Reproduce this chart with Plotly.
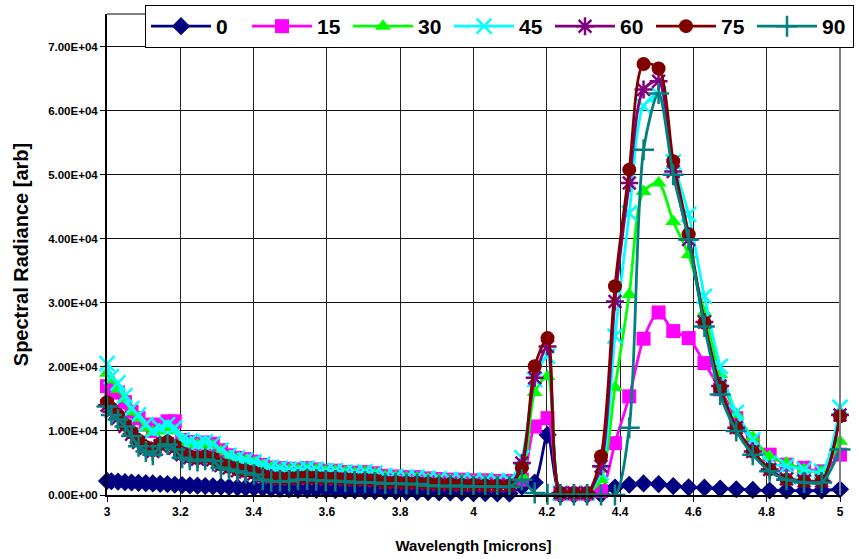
import plotly.graph_objects as go

wavelength = [3.000, 3.012, 3.030, 3.049, 3.067, 3.086, 3.106, 3.125, 3.145, 3.165,
              3.185, 3.205, 3.226, 3.247, 3.268, 3.289, 3.311, 3.333, 3.356, 3.378,
              3.401, 3.425, 3.448, 3.472, 3.497, 3.521, 3.546, 3.571, 3.597, 3.623,
              3.650, 3.676, 3.704, 3.731, 3.759, 3.788, 3.817, 3.846, 3.876, 3.906,
              3.937, 3.968, 4.000, 4.032, 4.065, 4.098, 4.132, 4.167, 4.202, 4.237,
              4.274, 4.310, 4.348, 4.386, 4.425, 4.464, 4.505, 4.545, 4.587, 4.630,
              4.673, 4.717, 4.762, 4.808, 4.854, 4.902, 4.950, 5.000]

s0 = [2200, 2150, 2100, 2000, 1950, 1900, 1850, 1800, 1750, 1700,
      1600, 1550, 1500, 1450, 1400, 1350, 1300, 1250, 1200, 1150,
      1100, 1050, 1000, 950, 900, 850, 850, 800, 800, 750,
      700, 700, 650, 600, 600, 550, 500, 500, 450, 400,
      400, 350, 300, 300, 250, 250, 1300, 1950, 9400, 0,
      0, 0, 100, 1170, 1600, 1800, 1700, 1400, 1200, 1150,
      1000, 900, 800, 700, 700, 650, 700, 900]

s15 = [17000, 16500, 16000, 14500, 13000, 12000, 11000, 10000, 11000, 11500,
       11500, 8600, 8300, 8000, 8200, 8000, 7000, 6200, 5800, 5600,
       5200, 4700, 4300, 4200, 4100, 4000, 4200, 4000, 3800, 3800,
       3600, 3500, 3600, 3400, 3000, 2900, 2800, 2800, 2600, 2500,
       2400, 2400, 2300, 2300, 2200, 2200, 2400, 10700, 12000, 200,
       200, 200, 600, 8100, 15400, 24400, 28500, 25600, 24500, 20600,
       16500, 12000, 8400, 6300, 4750, 4250, 3700, 6300]

s30 = [19000, 18000, 16500, 15000, 13000, 12000, 10500, 9800, 10000, 10500,
       10000, 8300, 8000, 7800, 8000, 7700, 6800, 6000, 5600, 5300,
       5000, 4600, 4200, 4000, 3900, 3900, 4000, 3900, 3700, 3700,
       3500, 3400, 3500, 3300, 2900, 2800, 2700, 2700, 2500, 2400,
       2300, 2300, 2200, 2200, 2100, 2100, 3000, 16000, 18500, 200,
       200, 200, 2400, 16800, 31300, 47400, 48700, 42700, 37500, 28500,
       18800, 12600, 9000, 6000, 5000, 4000, 3700, 8400]

s45 = [20500, 18500, 17500, 15500, 13500, 12500, 11000, 10000, 10500, 11000,
       10500, 8600, 8400, 8000, 8300, 8000, 7000, 6200, 5800, 5500,
       5200, 4800, 4300, 4200, 4000, 4000, 4200, 4000, 3800, 3800,
       3600, 3500, 3600, 3400, 3000, 2900, 2800, 2800, 2600, 2500,
       2400, 2400, 2300, 2300, 2200, 2200, 5800, 18000, 21700, 300,
       300, 300, 3500, 24800, 44000, 60700, 62500, 52000, 43800, 31000,
       20100, 12900, 8650, 5000, 4500, 4000, 3700, 13700]

s60 = [14000, 13000, 12000, 10700, 9500, 8200, 7300, 6800, 7700, 8000,
       7300, 6300, 5800, 5600, 5800, 5500, 4600, 4200, 3800, 3600,
       3300, 2900, 2600, 2500, 2500, 2600, 2700, 2600, 2500, 2500,
       2400, 2300, 2300, 2200, 1900, 1900, 1800, 1800, 1700, 1600,
       1600, 1500, 1500, 1400, 1400, 1400, 5000, 18300, 23200, 300,
       300, 300, 4500, 30200, 48700, 63300, 64600, 50500, 39900, 27000,
       17000, 10500, 6800, 4000, 2500, 2200, 2200, 12500]

s75 = [14500, 13500, 12500, 11000, 9800, 8500, 7500, 7000, 8000, 8300,
       7600, 6500, 6000, 5800, 6000, 5700, 4800, 4400, 4000, 3800,
       3500, 3000, 2700, 2600, 2600, 2700, 2800, 2700, 2600, 2600,
       2500, 2400, 2400, 2300, 2000, 2000, 1900, 1900, 1800, 1700,
       1700, 1600, 1600, 1500, 1500, 1500, 4250, 20100, 24500, 300,
       300, 300, 6050, 32600, 50800, 67300, 66600, 52100, 40700, 26900,
       16800, 10500, 6800, 4000, 2400, 2150, 2150, 12300]

s90 = [13800, 12500, 11800, 10700, 9200, 7600, 6800, 6300, 7600, 7900,
       7100, 5800, 5500, 5300, 5500, 5300, 4250, 4000, 3700, 3450,
       3200, 2400, 2150, 2150, 2150, 2400, 2400, 2300, 2200, 2200,
       2100, 2000, 2000, 1900, 1800, 1800, 1700, 1700, 1500, 1400,
       1400, 1400, 1300, 1300, 1300, 1300, 2400, 300, 100, 0,
       0, 0, 0, 0, 10500, 53900, 62700, 50000, 39900, 26300,
       15700, 10000, 6300, 3700, 2400, 1950, 1950, 7100]

series_names = ["0", "15", "30", "45", "60", "75", "90"]
series_values = [s0, s15, s30, s45, s60, s75, s90]
colors = ["#000080", "#FF00FF", "#00FF00", "#00FFFF", "#800080", "#800000", "#008080"]
symbols = ["diamond", "square", "triangle-up", "x-thin-open", "asterisk-open", "circle", "cross-thin-open"]

ytick_vals = [0, 10000, 20000, 30000, 40000, 50000, 60000, 70000]
ytick_text = ["0.00E+00", "1.00E+04", "2.00E+04", "3.00E+04", "4.00E+04", "5.00E+04", "6.00E+04", "7.00E+04"]
xtick_vals = [3, 3.2, 3.4, 3.6, 3.8, 4, 4.2, 4.4, 4.6, 4.8, 5]
xtick_text = ["3", "3.2", "3.4", "3.6", "3.8", "4", "4.2", "4.4", "4.6", "4.8", "5"]

FONT = "Liberation Sans, Arial, sans-serif"

fig = go.Figure()
for name, vals, col, sym in zip(series_names, series_values, colors, symbols):
    open_sym = sym.endswith("open")
    fig.add_trace(go.Scatter(
        x=wavelength, y=vals, name=name, mode="lines+markers",
        line=dict(color=col, width=2.8, shape="spline", smoothing=0.8),
        marker=dict(symbol=sym, size=14 if not open_sym else 15, color=col,
                    line=dict(color=col, width=2.5 if open_sym else 0)),
        cliponaxis=False,
    ))

fig.update_layout(
    width=857, height=559,
    margin=dict(l=107, r=17, t=14, b=64, autoexpand=False),
    paper_bgcolor="white", plot_bgcolor="white",
    font=dict(family=FONT, color="black"),
    showlegend=True,
    legend=dict(
        orientation="h", x=145 / 857, xanchor="left", y=1 - 5 / 559, yanchor="top",
        xref="container", yref="container",
        bgcolor="white", bordercolor="black", borderwidth=1,
        font=dict(family=FONT, size=21, weight="bold", color="black"),
        itemwidth=60, entrywidth=26, entrywidthmode="pixels", tracegroupgap=0,
    ),
    xaxis=dict(
        range=[3, 5], tickvals=xtick_vals, ticktext=xtick_text,
        showgrid=True, gridcolor="#222222", gridwidth=1,
        showline=True, linecolor="black", linewidth=2,
        ticks="outside", ticklen=5, tickcolor="black",
        tickfont=dict(family=FONT, size=12, weight="bold"),
        title=dict(text="Wavelength [microns]", standoff=22,
                   font=dict(family=FONT, size=15, weight="bold")),
        zeroline=False,
    ),
    yaxis=dict(
        range=[0, 75100], tickvals=ytick_vals, ticktext=ytick_text,
        showgrid=True, gridcolor="#111111", gridwidth=1,
        showline=True, linecolor="black", linewidth=2,
        ticks="outside", ticklen=5, tickcolor="black",
        tickfont=dict(family=FONT, size=11.5, weight="bold"),
        title=dict(text="Spectral Radiance [arb]", standoff=14,
                   font=dict(family=FONT, size=20, weight="bold")),
        zeroline=False,
    ),
    shapes=[
        dict(type="line", xref="paper", yref="paper", x0=0, x1=1, y0=1, y1=1,
             line=dict(color="#808080", width=2)),
        dict(type="line", xref="paper", yref="paper", x0=1, x1=1, y0=0, y1=1,
             line=dict(color="#808080", width=2)),
    ],
)

fig.write_html("out.html", config={"displayModeBar": False},
               post_script="document.body.style.margin='0';document.body.style.overflow='hidden';")
